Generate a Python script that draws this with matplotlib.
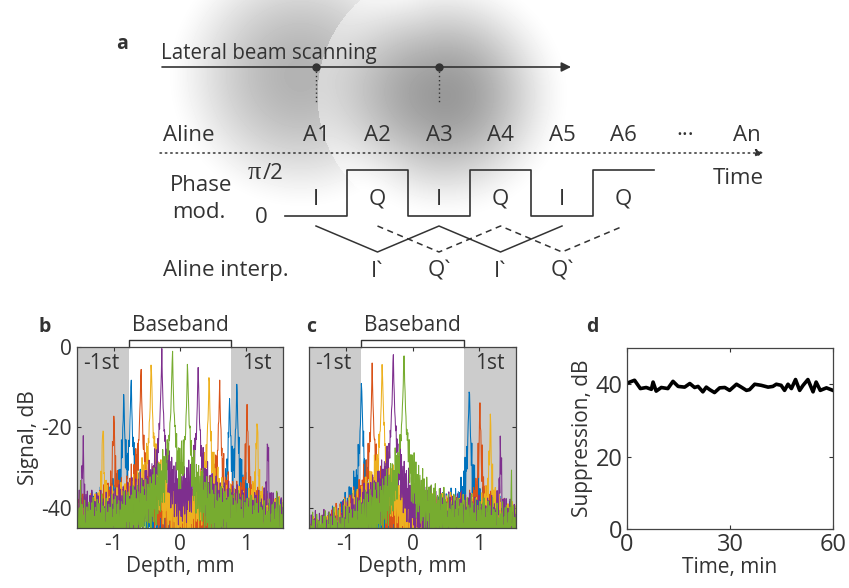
import numpy as np
import matplotlib
matplotlib.use("Agg")
import matplotlib.pyplot as plt
import matplotlib.transforms as mtransforms

plt.rcParams['font.family'] = ['Open Sans', 'DejaVu Sans']
plt.rcParams['font.size'] = 15
INK = '#333333'
plt.rcParams['text.color'] = INK
plt.rcParams['axes.labelcolor'] = INK
plt.rcParams['xtick.color'] = INK
plt.rcParams['ytick.color'] = INK

# ---------------- data ----------------
# panel a schematic
ALINE_NAMES = ['A1', 'A2', 'A3', 'A4', 'A5', 'A6', '···', 'An']
PHASE_STEPS = [0, 1, 0, 1, 0, 1]          # 0 -> I (phase 0), 1 -> Q (phase pi/2)
PHASE_NAMES = ['I', 'Q', 'I', 'Q', 'I', 'Q']
SOLID_INTERP = [1, 0, 1, 0, 1]            # starts at A1
DASHED_INTERP = [1, 0, 1, 0, 1]           # starts at A2
INTERP_NAMES = ['I`', 'Q`', 'I`', 'Q`']   # under A2..A5
SCAN_DOTS = [0, 2]                        # A1, A3

# panels b/c: peak positions (mm) and heights (dB) per colour
COLORS = ['#0072BD', '#D95319', '#EDB120', '#7E2F8E', '#77AC30']
B_PEAK_POS = [[-0.846, -0.736, 0.746, 0.856],
              [-0.995, -0.587, 0.597, 1.01],
              [-1.16, -0.433, 0.438, 1.16],
              [-1.46, -0.274, 0.274, 1.32],
              [-1.50, -0.114, 0.114, 1.46]]
B_PEAK_DB = [[-10.8, -6.7, -11.7, -8.4],
             [-15.9, -4.2, -8.2, -14.1],
             [-18.4, -2.6, -6.2, -17.0],
             [-24.5, -0.7, -4.1, -22.7],
             [-40.0, 0.0, -3.0, -40.0]]
C_PEAK_POS = [[-0.764, 0.850],
              [-0.604, 1.01],
              [-0.454, 1.165],
              [-0.289, 1.316],
              [-0.128, 1.48]]
C_PEAK_DB = [[-7.0, -8.7],
             [-4.5, -13.7],
             [-2.8, -17.0],
             [-0.7, -23.0],
             [0.0, -37.0]]

# peak line shape: distance from peak (mm) -> dB below peak
SHAPE_D = [0.0, 0.004, 0.01, 0.02, 0.04, 0.07, 0.1, 0.15, 0.25, 0.4, 0.8, 3.0]
SHAPE_DB = [0, -3, -8, -14, -21, -27, -31, -34, -38, -42, -48, -55]

# noise floor envelope (dB), plus an offset per colour
FLOOR_X = [-1.55, -1.2, -0.8, 0.0, 0.8, 1.2, 1.55]
B_FLOOR = [-46, -45, -44, -43.5, -44, -45, -46]
C_FLOOR = [-55, -52, -47, -44.5, -45, -45.5, -47]
B_FLOOR_OFFSET = [0.5, 0.5, 0, 0.5, -2.5]
C_FLOOR_OFFSET = [0, 0, 0, 0, -1.5]

# speckle of the noise floor (dB), hand-typed
NOISE = [1.8, -2.4, 3.1, -0.7, -4.2, 2.6, 0.4, -3.3, 4.5, -1.6, 0.9, -4.8,
         2.2, -0.3, 3.7, -2.9, -1.1, 4.1, -3.8, 1.3, -0.5, 2.9, -4.4, 0.7,
         3.4, -2.1, -3.6, 1.9, 4.7, -1.4, 0.2, -2.7, 3.9, -4.6, 1.1, 2.4,
         -0.9, -3.1, 4.3, -1.8, 0.6, 3.2, -4.1, -0.2, 2.8, -3.4, 1.5, 4.9,
         -2.5, -0.8, 3.6, -4.9, 0.3, 2.1, -1.3, -3.9, 4.4, 1.7, -2.2, 0.8,
         -4.5, 3.3, -0.6, 2.5, -3.0, 1.2, 4.0, -1.9, -4.3, 2.7, 0.1, -2.6,
         3.8, -1.0, -3.7, 4.6, 0.5, -2.0, 1.6, -4.7, 3.0, -0.4, 2.3, -3.5,
         4.2, -1.5, 0.9, -2.8, 3.5, -4.0, 1.4, 2.0, -1.2, -3.2, 4.8, -0.1,
         -2.3, 3.0, -4.4, 1.0, 2.6, -1.7, 0.4, -3.9, 4.1, -0.8, 1.9, -2.6]
NOISE_GAIN = 1.6

# panel d: suppression over time
D_TIME = [0, 2.2, 3.9, 5.6, 7.1, 7.6, 8.5, 10, 11.9, 13.4, 14.9, 16.8, 18.3,
          19.7, 20.7, 22.1, 23.1, 24.1, 25.5, 27, 28.5, 29.9, 31.9, 33.3,
          34.8, 35.7, 37.2, 39.1, 41.1, 42.5, 43.5, 44.9, 45.9, 46.9, 47.9,
          49.1, 50.3, 51.3, 52.7, 54.2, 55.1, 56.3, 58.1, 60]
D_SUPP = [40.3, 41.1, 38.8, 39.1, 38.6, 40.6, 38.1, 39.1, 38.8, 40.8, 39.4,
          39.2, 40.2, 39.1, 39.4, 37.9, 39.2, 38.5, 37.7, 39.0, 39.1, 38.3,
          40.0, 39.2, 38.3, 38.5, 40.0, 39.7, 39.2, 39.4, 40.0, 39.7, 38.3,
          40.0, 38.8, 41.3, 38.3, 39.7, 41.3, 37.9, 40.6, 38.3, 39.0, 38.3]

# ---------------- figure ----------------
fig = plt.figure(figsize=(8.49, 5.88), dpi=100)

# overlay in pixel units for the schematic (panel a)
ov = fig.add_axes([0, 0, 1, 1], zorder=0)
ov.axis('off')

# soft grey blobs behind the scanning sketch
gx, gy = np.meshgrid(np.arange(0, 849), np.arange(0, 280))
r1 = np.hypot(gx - 300, gy - 75) / 135.0
r2 = np.hypot(gx - 445, gy - 95) / 128.0
v1 = 1 - 0.30 * np.clip(1 - r1 ** 2, 0, 1) ** 1.6
v2 = 1 - 0.40 * np.clip(1 - r2 ** 2, 0, 1) ** 2
bg = np.where(r2 < 1, (0.45 + 0.55 * v1) * v2, v1)
ov.imshow(bg, cmap='gray', vmin=0, vmax=1, extent=(0, 849, 280, 0),
          aspect='auto', interpolation='bilinear', zorder=0)
ov.set_xlim(0, 849)
ov.set_ylim(588, 0)

x0, dx = 316, 61.5
def ax_x(i):
    return x0 + dx * i

FS = 16
ov.text(116, 49, 'a', fontsize=14, fontweight='bold', va='baseline')

# lateral scanning arrow
ov.text(161, 59, 'Lateral beam scanning', fontsize=14.8, va='baseline')
ov.annotate('', xy=(571, 67), xytext=(162, 67),
            arrowprops=dict(arrowstyle='-|>', color=INK, lw=1.2,
                            mutation_scale=14, shrinkA=0, shrinkB=0))
for i in SCAN_DOTS:
    ov.plot([ax_x(i), ax_x(i)], [67, 104], ls=(0, (1, 2)), color=INK, lw=1)
    ov.plot(ax_x(i), 67, 'o', ms=5, color=INK)

# Aline row
ov.text(163, 141, 'Aline', fontsize=FS, va='baseline')
for i, name in enumerate(ALINE_NAMES):
    ov.text(ax_x(i), 141, name, fontsize=FS, ha='center', va='baseline')
ov.annotate('', xy=(764, 153), xytext=(160, 153),
            arrowprops=dict(arrowstyle='-|>', color=INK, lw=1.1, ls=(0, (1, 2.5)),
                            mutation_scale=12, shrinkA=0, shrinkB=0))
ov.text(764, 184, 'Time', fontsize=FS, ha='right', va='baseline')

# phase modulation square wave
y_lo, y_hi = 216, 170
ov.text(170, 191, 'Phase', fontsize=FS, va='baseline')
ov.text(172, 218, 'mod.', fontsize=FS, va='baseline')
ov.text(248, 179, 'π', fontsize=19, family='Liberation Serif', va='baseline')
ov.text(263, 179, '/2', fontsize=FS, va='baseline')
ov.text(261, 223, '0', fontsize=FS, ha='center', va='baseline')
px, py = [], []
for i, s in enumerate(PHASE_STEPS):
    yv = y_hi if s else y_lo
    px += [ax_x(i) - dx / 2, ax_x(i) + dx / 2]
    py += [yv, yv]
ov.plot(px, py, color=INK, lw=1.2)
for i, name in enumerate(PHASE_NAMES):
    ov.text(ax_x(i), 205, name, fontsize=FS, ha='center', va='baseline')

# A-line interpolation
y_top, y_bot = 226, 252
ov.plot([ax_x(i) for i in range(len(SOLID_INTERP))],
        [y_top if s else y_bot for s in SOLID_INTERP], color=INK, lw=1.1)
ov.plot([ax_x(i + 1) for i in range(len(DASHED_INTERP))],
        [y_top if s else y_bot for s in DASHED_INTERP], color=INK, lw=1.1,
        ls=(0, (4, 3)))
ov.text(163, 276, 'Aline interp.', fontsize=FS, va='baseline')
for i, name in enumerate(INTERP_NAMES):
    ov.text(ax_x(i + 1), 277, name, fontsize=FS, ha='center', va='baseline')

# panel labels b, c, d
ov.text(39, 332, 'b', fontsize=14, fontweight='bold', va='baseline')
ov.text(306, 332, 'c', fontsize=14, fontweight='bold', va='baseline')
ov.text(586, 332, 'd', fontsize=14, fontweight='bold', va='baseline')

# ---------------- spectra ----------------
depth = np.linspace(-1.55, 1.55, 460)
noise_full = np.resize(np.array(NOISE), depth.size) * NOISE_GAIN

def trace(pos, hts, floor_knots, offset, k):
    floor = np.interp(depth, FLOOR_X, floor_knots) + offset
    lin = 10 ** (floor / 10)
    for p, h in zip(pos, hts):
        lin = lin + 10 ** ((h + np.interp(np.abs(depth - p), SHAPE_D, SHAPE_DB)) / 10)
    base = 10 * np.log10(lin)
    n = np.roll(noise_full, 23 * k + 5)
    if k % 2:
        n = n[::-1]
    w = np.clip((-base - 16) / 16, 0.12, 1.0)
    return base + n * w

def style_axes(ax):
    ax.tick_params(direction='in', top=True, right=True, length=3,
                   width=0.8, pad=4)
    for sp in ax.spines.values():
        sp.set_color('#444444')
        sp.set_linewidth(0.9)

def spectrum_panel(rect, peak_pos, peak_db, floor_knots, offsets, ylabels):
    ax = fig.add_axes(rect, zorder=2)
    ax.set_xlim(-1.55, 1.55)
    ax.set_ylim(-45, 0)
    ax.axvspan(-1.6, -0.77, color='#cccccc', lw=0, zorder=0)
    ax.axvspan(0.77, 1.6, color='#cccccc', lw=0, zorder=0)
    for k, c in enumerate(COLORS):
        ax.plot(depth, trace(peak_pos[k], peak_db[k], floor_knots, offsets[k], k),
                color=c, lw=0.75, zorder=2)
    ax.set_xticks([-1, 0, 1])
    ax.set_xticklabels(['-1', '0', '1'])
    ax.set_yticks([-40, -20, 0])
    if ylabels:
        ax.set_yticklabels(['-40', '-20', '0'])
        ax.set_ylabel('Signal, dB', labelpad=1)
    else:
        ax.set_yticklabels([])
    ax.set_xlabel('Depth, mm', labelpad=1)
    ax.text(-1.46, -4, '-1st', ha='left', va='center', zorder=3)
    ax.text(1.38, -4, '1st', ha='right', va='center', zorder=3)
    # baseband bracket
    tr = mtransforms.blended_transform_factory(ax.transData, ax.transAxes)
    ax.plot([-0.77, -0.77, 0.77, 0.77], [1.0, 1.039, 1.039, 1.0],
            color=INK, lw=1, transform=tr, clip_on=False)
    ax.text(0, 1.06, 'Baseband', ha='center', va='bottom', transform=tr)
    style_axes(ax)
    return ax

spectrum_panel([0.0907, 0.1020, 0.2426, 0.3078], B_PEAK_POS, B_PEAK_DB,
               B_FLOOR, B_FLOOR_OFFSET, True)
spectrum_panel([0.3640, 0.1020, 0.2438, 0.3078], C_PEAK_POS, C_PEAK_DB,
               C_FLOOR, C_FLOOR_OFFSET, False)

# ---------------- suppression ----------------
axd = fig.add_axes([0.7385, 0.1003, 0.2426, 0.3078], zorder=2)
axd.plot(D_TIME, D_SUPP, color='black', lw=2.6)
axd.set_xlim(0, 60)
axd.set_ylim(0, 50)
axd.set_xticks([0, 30, 60])
axd.set_yticks([0, 20, 40])
axd.set_xlabel('Time, min', labelpad=0)
axd.set_ylabel('Suppression, dB', labelpad=2)
style_axes(axd)
axd.tick_params(labelsize=17, pad=3)

fig.savefig('out.png', dpi=100)
